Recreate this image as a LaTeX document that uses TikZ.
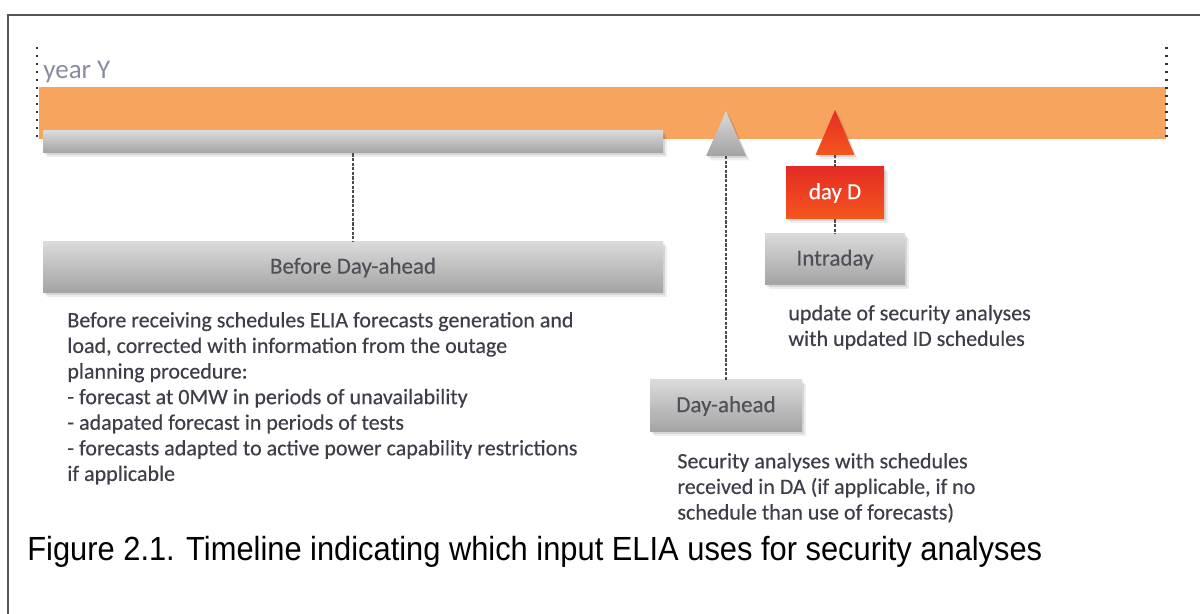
\documentclass[tikz,border=0pt]{standalone}
\usepackage{fontspec}
\setmainfont{Carlito}
\newfontfamily\heavyfont[FakeBold=0.35]{Carlito}
\newfontfamily\capfont{Liberation Sans}
\usetikzlibrary{shadows,calc}

\definecolor{barorange}{RGB}{246,164,94}
\definecolor{greytop}{RGB}{218,218,218}
\definecolor{greybot}{RGB}{163,163,163}
\definecolor{redtop}{RGB}{228,44,36}
\definecolor{redbot}{RGB}{245,86,30}
\definecolor{labelgrey}{RGB}{80,80,88}
\definecolor{bodygrey}{RGB}{62,62,74}
\definecolor{yeargrey}{RGB}{135,140,158}
\definecolor{framegrey}{RGB}{85,85,85}

\begin{document}
\begin{tikzpicture}[x=0.5pt,y=-0.5pt,
  softshadow/.style={
    general shadow={fill=black,opacity=.10,shadow xshift=0.8pt,shadow yshift=-1.0pt},
    general shadow={fill=black,opacity=.07,shadow xshift=1.8pt,shadow yshift=-2.2pt}},
  greybox/.style={rectangle,inner sep=0pt,top color=greytop,bottom color=greybot,
    softshadow,font=\heavyfont\fontsize{11.5}{13}\selectfont,text=labelgrey},
  redbox/.style={rectangle,inner sep=0pt,top color=redtop,bottom color=redbot,
    softshadow,font=\heavyfont\fontsize{11.5}{13}\selectfont,text=white},
  conn/.style={draw=black!70,line width=0.55pt,dash pattern=on 1.6pt off 0.7pt},
  yearedge/.style={draw=black!80,line width=1.3pt,dash pattern=on 1pt off 3pt},
  body/.style={anchor=north west,inner sep=0pt,align=left,text=bodygrey,
    font=\heavyfont\fontsize{11}{12.8}\selectfont},
]
\useasboundingbox (0,0) rectangle (1200,614);

% frame
\coordinate (fbl) at (8,614);
\coordinate (ftl) at (8,15);
\coordinate (ftr) at (1200,15);
\draw[framegrey,line width=1pt] (fbl) -- (ftl) -- (ftr);

% year bar
\node[rectangle,inner sep=0pt,fill=barorange,minimum width=563.5pt,minimum height=26pt]
  (year) at (602.5,113) {};
\node[greybox,minimum width=310pt,minimum height=11pt] (graybar) at (353,142) {};

% year limits
\coordinate (ylt) at (37,47);
\coordinate (ylb) at (37,138);
\coordinate (yrt) at (1166.5,47);
\coordinate (yrb) at (1166.5,138);
\draw[yearedge] (ylt) -- (ylb);
\draw[yearedge] (yrt) -- (yrb);

\node[anchor=base west,inner sep=0pt,text=yeargrey,font=\fontsize{13.5}{15}\selectfont]
  (yearlabel) at (43,79) {year Y};

% markers
\coordinate (datip) at (726,111);
\coordinate (dabase) at (726,156);
\path[top color=greytop,bottom color=greybot,softshadow]
  (datip) -- (746,156) -- (706,156) -- cycle;
\coordinate (idtip) at (835,110);
\coordinate (idbase) at (835,155);
\path[top color=redtop,bottom color=redbot,softshadow]
  (idtip) -- (854.5,155) -- (815.5,155) -- cycle;

% phase boxes
\node[greybox,minimum width=310pt,minimum height=25.5pt] (before) at (353,267.5) {Before Day-ahead};
\node[greybox,minimum width=76pt,minimum height=26pt] (dayahead) at (726,406) {Day-ahead};
\node[redbox,minimum width=49pt,minimum height=26pt] (dayD) at (835,193) {day D};
\node[greybox,minimum width=70pt,minimum height=25.5pt] (intraday) at (835,259.5) {Intraday};

% connectors
\draw[conn] (graybar.south) -- (before.north);
\draw[conn] (dabase) -- (dayahead.north);
\draw[conn] (idbase) -- (dayD.north);
\draw[conn] (dayD.south) -- (intraday.north);

% descriptions
\node[body] (beforetxt) at (67,309) {\strut Before receiving schedules ELIA forecasts generation and\\
load, corrected with  information from the outage\\
planning procedure:\\
- forecast at 0MW in periods of unavailability\\
- adapated forecast in periods of tests\\
- forecasts adapted to active power capability restrictions\\
if applicable};
\node[body] (datxt) at (677,450) {\strut Security analyses with schedules\\
received in DA (if applicable, if no\\
schedule than use of forecasts)};
\node[body] (idtxt) at (788,302) {\strut update of security analyses\\
with updated ID schedules};

% caption
\node[anchor=base west,inner sep=0pt,font=\capfont\fontsize{15.5}{18}\selectfont,
  xscale=0.995,yscale=1.08]
  (caption) at (27,560) {Figure 2.1. Timeline indicating which input ELIA uses for security analyses};
\end{tikzpicture}
\end{document}
